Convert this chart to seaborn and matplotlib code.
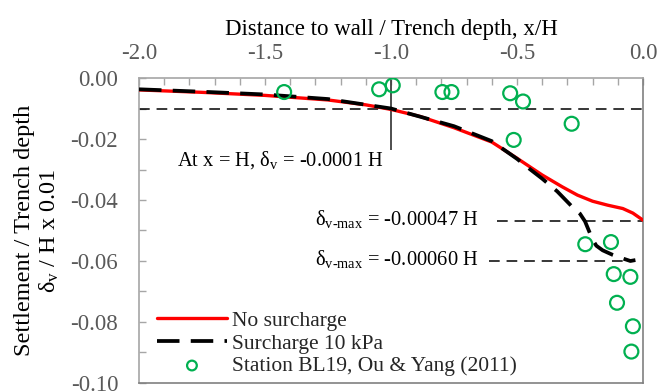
import matplotlib
matplotlib.use("Agg")
import matplotlib.pyplot as plt
from matplotlib.ticker import MultipleLocator, FuncFormatter
import seaborn as sns
import pandas as pd

# ---------------- data ----------------
no_sur_x = [-2.0, -1.75, -1.5, -1.25, -1.1, -1.0, -0.885, -0.75, -0.6, -0.5, -0.4,
            -0.32, -0.26, -0.2, -0.14, -0.08, -0.04, 0.0]
no_sur_y = [-0.0039, -0.0047, -0.0057, -0.0072, -0.0088, -0.0103, -0.0126, -0.0163,
            -0.0210, -0.0263, -0.0318, -0.0357, -0.0384, -0.0404, -0.0417, -0.0428,
            -0.0443, -0.0466]

sur_x = [-2.0, -1.75, -1.5, -1.25, -1.0, -0.75, -0.6, -0.5, -0.45, -0.4, -0.34, -0.28,
         -0.25, -0.23, -0.215, -0.2, -0.185, -0.16, -0.12, -0.09, -0.05, -0.03]
sur_y = [-0.0037, -0.0045, -0.0054, -0.0069, -0.0100, -0.0158, -0.0207, -0.0265, -0.0298,
         -0.0330, -0.0372, -0.0423, -0.0445, -0.0470, -0.0500, -0.0530, -0.0550, -0.0565,
         -0.0580, -0.0589, -0.0600, -0.0597]

obs_x = [-1.424, -1.047, -0.993, -0.796, -0.760, -0.527, -0.476, -0.513, -0.283,
         -0.229, -0.127, -0.116, -0.050, -0.103, -0.040, -0.046]
obs_y = [-0.0046, -0.0037, -0.0024, -0.0046, -0.0046, -0.0050, -0.0077, -0.0203, -0.0150,
         -0.0545, -0.0538, -0.0643, -0.0652, -0.0737, -0.0814, -0.0897]

ref_levels = [-0.010, -0.047, -0.060]
ref_x_start = [-2.0, -0.58, -0.612]
ref_x_end = [0.0, 0.0, -0.03]
vline_x = -1.0
vline_y = [-0.0007, -0.0235]

series_labels = ["No surcharge", "Surcharge 10 kPa", "Station BL19, Ou & Yang (2011)"]
x_title = "Distance to wall / Trench depth, x/H"
y_title = "Settlement / Trench depth\n\u03b4$_\\mathregular{v}$ / H x 0.01"

# ---------------- style ----------------
sns.set_theme(style="white")
plt.rcParams["font.family"] = ["Liberation Serif", "DejaVu Serif"]
plt.rcParams["mathtext.fontset"] = "custom"
plt.rcParams["mathtext.rm"] = "Liberation Serif"
plt.rcParams["mathtext.it"] = "Liberation Serif:italic"
plt.rcParams["axes.unicode_minus"] = False

FS_TICK = 16.5
FS_TITLE = 16.5
FS_YLAB = 17.5
FS_LEG = 15.5
FS_ANN = 14.8
GRAY = "#595959"
SPINE = "#A6A6A6"
SPINE_DARK = "#808080"


def fmt(nd):
    def f(v, pos):
        if abs(v) < 1e-12:
            v = 0.0
        return f"{v:.{nd}f}"
    return FuncFormatter(f)


fig = plt.figure(figsize=(6.6, 3.92), dpi=100)
ax = fig.add_axes([0.2106, 0.023, 0.7636, 0.778])

df1 = pd.DataFrame({"x": no_sur_x, "y": no_sur_y})
df2 = pd.DataFrame({"x": sur_x, "y": sur_y})
df3 = pd.DataFrame({"x": obs_x, "y": obs_y})

# reference lines
for lvl, xs, xe in zip(ref_levels, ref_x_start, ref_x_end):
    ax.hlines(lvl, xs, xe, colors="black", linewidth=1.1,
              linestyles=(0, (7, 4.5)), zorder=2)
ax.vlines(vline_x, vline_y[0], vline_y[1], colors="#404040", linewidth=1.3, zorder=2)

sns.lineplot(data=df1, x="x", y="y", ax=ax, color="#FF0000", linewidth=2.4,
             label=series_labels[0], zorder=3)
sns.lineplot(data=df2, x="x", y="y", ax=ax, color="black", linewidth=2.7,
             linestyle=(0, (6, 3)), label=series_labels[1], zorder=4)
sns.scatterplot(data=df3, x="x", y="y", ax=ax, s=100, marker="o",
                facecolor="none", edgecolor="#00B050", linewidth=1.6,
                label=series_labels[2], zorder=5)

ax.set_xlim(-2.0, 0.0)
ax.set_ylim(-0.10, 0.0)

ax.xaxis.tick_top()
ax.xaxis.set_label_position("top")
ax.xaxis.set_major_locator(MultipleLocator(0.5))
ax.xaxis.set_minor_locator(MultipleLocator(0.1))
ax.xaxis.set_major_formatter(fmt(1))
ax.yaxis.set_major_locator(MultipleLocator(0.02))
ax.yaxis.set_minor_locator(MultipleLocator(0.01))
ax.yaxis.set_major_formatter(fmt(2))

ax.tick_params(axis="x", which="both", direction="in", top=True, bottom=False,
               length=5, width=1, color=SPINE, labelsize=FS_TICK, labelcolor=GRAY, pad=10)
ax.tick_params(axis="y", which="both", direction="in", left=True, right=False,
               length=5, width=1, color=SPINE, labelsize=FS_TICK, labelcolor=GRAY, pad=15)

for name, sp in ax.spines.items():
    sp.set_visible(True)
    sp.set_color(SPINE if name in ("top", "left") else SPINE_DARK)
    sp.set_linewidth(1.2)

ax.set_xlabel(x_title, fontsize=FS_TITLE, color="black", labelpad=6)
ax.set_ylabel(y_title, fontsize=FS_YLAB, color="black", labelpad=7, linespacing=1.15)

ax.text(-1.85, -0.0268, "At x = H, \u03b4$_\\mathregular{v}$ = -0.0001 H",
        fontsize=FS_ANN, ha="left", va="center", color="black")
ax.text(-1.30, -0.0462, "\u03b4$_\\mathregular{v\\text{-}max}$ = -0.00047 H",
        fontsize=FS_ANN, ha="left", va="center", color="black")
ax.text(-1.30, -0.0593, "\u03b4$_\\mathregular{v\\text{-}max}$ = -0.00060 H",
        fontsize=FS_ANN, ha="left", va="center", color="black")

leg = ax.legend(loc="lower left", bbox_to_anchor=(0.01, -0.02), frameon=False,
                fontsize=FS_LEG, handlelength=3.25, handletextpad=0.25,
                labelspacing=0.12, borderaxespad=0.2, markerscale=0.7)

fig.savefig("out.png", dpi=100)
